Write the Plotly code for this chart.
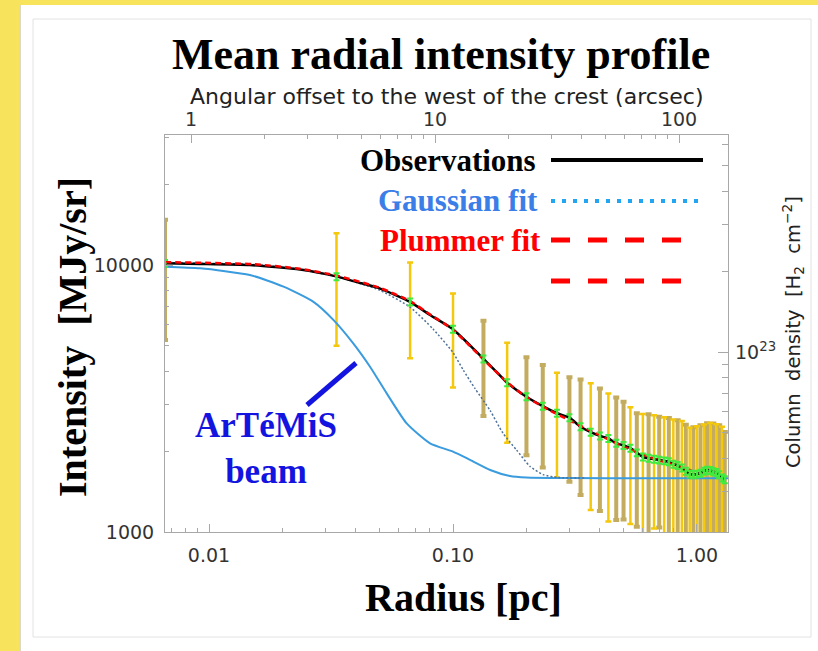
import math
import plotly.graph_objects as go

# ---------------- data ----------------
# radial bins (pc) of the observed profile
bin_radius_pc = [0.0066, 0.0333, 0.0667, 0.1, 0.1333, 0.1667, 0.2, 0.2333, 0.2667, 0.3,
                 0.3333, 0.3667, 0.4, 0.4333, 0.4667, 0.5, 0.5333, 0.5667, 0.6, 0.6333,
                 0.6667, 0.7, 0.7333, 0.7667, 0.8, 0.8333, 0.8667, 0.9, 0.9333, 0.9667,
                 1.0, 1.0333, 1.0667, 1.1, 1.1333, 1.1667, 1.2, 1.2333, 1.2667, 1.3]
bin_intensity = [10150, 9050, 7280, 5750, 4450, 3625, 3210, 2960, 2785, 2680,
                 2480, 2365, 2290, 2240, 2150, 2110, 2060, 1980, 1910, 1890,
                 1875, 1860, 1848, 1835, 1795, 1775, 1738, 1690, 1650, 1640,
                 1648, 1660, 1690, 1705, 1700, 1682, 1672, 1640, 1593, 1570]
bin_upper = [14770, 13150, 10230, 7830, 6190, 5120, 4510, 4220, 3950, 3800,
             3730, 3605, 3450, 3305, 3190, 3075, 2930, 2785, 2770, 2760,
             2740, 2700, 2690, 2675, 2640, 2620, 2605, 2520, 2460, 2470,
             2490, 2510, 2530, 2555, 2560, 2550, 2535, 2510, 2480, 2370]
bin_lower = [5240, 4990, 4480, 3480, 2720, 2160, 1940, 1745, 1600, 1543,
             1376, 1208, 1199, 1094, 1110, 1115, 1071, 1047, 960, 950,
             1030, 1040, 980, 960, 940, 930, 920, 900, 900, 900,
             900, 900, 900, 900, 900, 900, 900, 900, 900, 900]
bin_tone = ["K", "Y", "Y", "Y", "K", "Y", "K", "K", "Y", "K",
            "K", "Y", "K", "Y", "K", "K", "Y", "K", "Y", "K",
            "Y", "K", "Y", "K", "Y", "K", "Y", "K", "Y", "K",
            "Y", "K", "Y", "K", "Y", "K", "Y", "K", "Y", "K"]
bin_mean_error_pct = 3

# observed profile (black curve)
obs_r = [0.0066, 0.0092, 0.0147, 0.0236, 0.0335, 0.04, 0.05, 0.0667, 0.0805, 0.1,
         0.1167, 0.1333, 0.15, 0.1667, 0.2, 0.2333, 0.2667, 0.3, 0.3333, 0.3667,
         0.4, 0.4333, 0.4667, 0.5, 0.5333, 0.5667, 0.6, 0.6333, 0.6667, 0.7,
         0.7333, 0.7667, 0.8, 0.8333, 0.8667, 0.9, 0.9333, 0.9667, 1.0, 1.0333,
         1.0667, 1.1, 1.1333, 1.1667, 1.2, 1.2333, 1.2667, 1.3]
obs_I = [10150, 10100, 10000, 9620, 9050, 8650, 8180, 7280, 6500, 5750,
         5030, 4450, 4000, 3625, 3210, 2960, 2785, 2680, 2480, 2365,
         2290, 2240, 2150, 2110, 2060, 1980, 1910, 1890, 1875, 1860,
         1848, 1835, 1795, 1775, 1738, 1690, 1650, 1640, 1648, 1660,
         1690, 1705, 1700, 1682, 1672, 1640, 1593, 1570]

# Plummer fit (red dashed)
plummer_r = [0.0066, 0.015, 0.0236, 0.0335, 0.05, 0.0667, 0.08, 0.1, 0.1333, 0.1667,
             0.2, 0.25, 0.3, 0.4, 0.5, 0.6, 0.7, 0.8, 0.9, 0.95]
plummer_I = [10250, 10080, 9680, 9120, 8220, 7320, 6560, 5720, 4430, 3640,
             3200, 2850, 2620, 2300, 2090, 1950, 1855, 1790, 1725, 1700]

# Gaussian fit (dotted)
gauss_r = [0.0066, 0.015, 0.0236, 0.0335, 0.05, 0.0667, 0.083, 0.1, 0.11, 0.123,
           0.142, 0.16, 0.182, 0.207, 0.234, 0.27, 0.35]
gauss_I = [10200, 10050, 9620, 9030, 8050, 6950, 5750, 4700, 4050, 3450,
           2850, 2350, 2030, 1760, 1640, 1600, 1592]

# ArTeMiS beam (light blue)
beam_r = [0.0066, 0.0092, 0.0147, 0.0202, 0.0268, 0.0324, 0.039, 0.0457, 0.0535, 0.0646,
          0.0805, 0.1, 0.1175, 0.142, 0.171, 0.2, 0.3, 0.6, 1.0, 1.34]
beam_I = [9860, 9720, 9180, 8300, 7280, 6220, 5090, 4160, 3305, 2551,
          2148, 2000, 1862, 1707, 1621, 1600, 1592, 1590, 1590, 1590]

# axis extents / conversions
x_range_pc = [0.0066, 1.34]
y_range_I = [1000, 30700]
pc_per_arcsec = 0.00844
coldens_per_I = 1e23 / 4720.0

x_ticks = [0.01, 0.1, 1.0]
x_ticktext = ["0.01", "0.10", "1.00"]
x_minor = [0.007, 0.008, 0.009, 0.02, 0.03, 0.04, 0.05, 0.06, 0.07, 0.08, 0.09,
           0.2, 0.3, 0.4, 0.5, 0.6, 0.7, 0.8, 0.9]
top_ticks = [1, 10, 100]
top_ticktext = ["1", "10", "100"]
top_minor = [2, 3, 4, 5, 6, 7, 8, 9, 20, 30, 40, 50, 60, 70, 80, 90, 200]
y_ticks = [1000, 10000]
y_ticktext = ["1000", "10000"]
y_minor = [2000, 3000, 4000, 5000, 6000, 7000, 8000, 9000, 20000, 30000]
r_ticks = [1e23]
r_ticktext = ["10<sup>23</sup>"]
r_minor = [3e22, 4e22, 5e22, 6e22, 7e22, 8e22, 9e22, 2e23, 3e23, 4e23, 5e23, 6e23]

# ---------------- figure ----------------
W, H = 818, 651
PX_L, PX_R, PY_T, PY_B = 165, 728, 135, 532


def px(x):
    return (x - PX_L) / (PX_R - PX_L)


def py(y):
    return (PY_B - y) / (PY_B - PY_T)


fig = go.Figure()

# error bars (two tones)
for tone, color, thick in [("K", "#C3AC60", 4), ("Y", "#F4C80C", 2.5)]:
    idx = [i for i, t in enumerate(bin_tone) if t == tone]
    fig.add_trace(go.Scatter(
        x=[bin_radius_pc[i] for i in idx],
        y=[bin_intensity[i] for i in idx],
        mode="markers", marker=dict(size=1, opacity=0),
        error_y=dict(type="data", symmetric=False,
                     array=[bin_upper[i] - bin_intensity[i] for i in idx],
                     arrayminus=[bin_intensity[i] - bin_lower[i] for i in idx],
                     color=color, thickness=thick, width=3),
        hoverinfo="skip"))

fig.add_trace(go.Scatter(x=beam_r, y=beam_I, mode="lines",
                         line=dict(color="#3A9BDE", width=2, shape="spline", smoothing=0.6)))
fig.add_trace(go.Scatter(x=gauss_r, y=gauss_I, mode="lines",
                         line=dict(color="#4F7298", width=1.5, dash="2px,2px", shape="spline", smoothing=0.6)))
fig.add_trace(go.Scatter(x=obs_r, y=obs_I, mode="lines",
                         line=dict(color="black", width=2.5, shape="spline", smoothing=0.5)))
fig.add_trace(go.Scatter(x=plummer_r, y=plummer_I, mode="lines",
                         line=dict(color="#FF0000", width=2.5, dash="6px,4px", shape="spline", smoothing=0.6)))
fig.add_trace(go.Scatter(x=bin_radius_pc, y=bin_intensity, mode="markers",
                         marker=dict(size=3, color="#3EEB3E"),
                         error_y=dict(type="percent", value=bin_mean_error_pct,
                                      color="#3EEB3E", thickness=2, width=3)))

# helper traces activating the secondary axes
fig.add_trace(go.Scatter(x=[r / pc_per_arcsec for r in bin_radius_pc], y=bin_intensity,
                         xaxis="x2", yaxis="y", mode="markers",
                         marker=dict(size=1, opacity=0), hoverinfo="skip"))
fig.add_trace(go.Scatter(x=bin_radius_pc, y=[v * coldens_per_I for v in bin_intensity],
                         xaxis="x", yaxis="y2", mode="markers",
                         marker=dict(size=1, opacity=0), hoverinfo="skip"))

tickfont = dict(family="DejaVu Sans", size=19, color="#333333")
axline = "#A8A8A8"
lx = [math.log10(v) for v in x_range_pc]
ly = [math.log10(v) for v in y_range_I]

fig.update_layout(
    width=W, height=H, autosize=False, showlegend=False,
    margin=dict(l=PX_L, r=W - PX_R, t=PY_T, b=H - PY_B, pad=0),
    paper_bgcolor="#F8E35C", plot_bgcolor="white",
    xaxis=dict(type="log", range=lx, tickmode="array", tickvals=x_ticks, ticktext=x_ticktext,
               ticks="inside", ticklen=8, tickcolor=axline, showgrid=False, zeroline=False,
               showline=True, linecolor=axline, linewidth=1, mirror=True,
               tickfont=tickfont, ticklabelstandoff=6,
               minor=dict(tickmode="array", tickvals=x_minor, ticks="inside", ticklen=4,
                          tickcolor=axline, showgrid=False)),
    xaxis2=dict(type="log", overlaying="x", side="top", anchor="y",
                range=[lx[0] - math.log10(pc_per_arcsec), lx[1] - math.log10(pc_per_arcsec)],
                tickmode="array", tickvals=top_ticks, ticktext=top_ticktext,
                ticks="inside", ticklen=8, tickcolor=axline, showgrid=False, zeroline=False,
                showline=False, tickfont=tickfont, ticklabelstandoff=4,
                minor=dict(tickmode="array", tickvals=top_minor, ticks="inside", ticklen=4,
                           tickcolor=axline, showgrid=False)),
    yaxis=dict(type="log", range=ly, tickmode="array", tickvals=y_ticks, ticktext=y_ticktext,
               ticks="inside", ticklen=8, tickcolor=axline, showgrid=False, zeroline=False,
               showline=True, linecolor=axline, linewidth=1, mirror=True,
               tickfont=tickfont, ticklabelstandoff=6,
               minor=dict(tickmode="array", tickvals=y_minor, ticks="inside", ticklen=4,
                          tickcolor=axline, showgrid=False)),
    yaxis2=dict(type="log", overlaying="y", side="right", anchor="x",
                range=[ly[0] + math.log10(coldens_per_I), ly[1] + math.log10(coldens_per_I)],
                tickmode="array", tickvals=r_ticks, ticktext=r_ticktext,
                ticks="inside", ticklen=10, tickcolor=axline, showgrid=False, zeroline=False,
                showline=False, tickfont=tickfont, ticklabelstandoff=6,
                minor=dict(tickmode="array", tickvals=r_minor, ticks="inside", ticklen=6,
                           tickcolor=axline, showgrid=False)),
)

shapes = [
    dict(type="rect", xref="paper", yref="paper", layer="below",
         x0=px(19), x1=px(21), y0=py(651), y1=py(5),
         line=dict(width=0), fillcolor="#DCD9C8"),
    dict(type="rect", xref="paper", yref="paper", layer="below",
         x0=px(21), x1=px(818), y0=py(651), y1=py(5),
         line=dict(width=0), fillcolor="white"),
    dict(type="rect", xref="paper", yref="paper", layer="below",
         x0=px(33), x1=px(811), y0=py(637), y1=py(19),
         line=dict(width=1, color="#E2E2E2"), fillcolor="white"),
    # legend samples
    dict(type="line", xref="paper", yref="paper", x0=px(551), x1=px(703), y0=py(160), y1=py(160),
         line=dict(color="black", width=4)),
    dict(type="line", xref="paper", yref="paper", x0=px(551), x1=px(703), y0=py(201), y1=py(201),
         line=dict(color="#22A6F2", width=4, dash="4px,7px")),
    dict(type="line", xref="paper", yref="paper", x0=px(551), x1=px(684), y0=py(240), y1=py(240),
         line=dict(color="#FF0000", width=5, dash="19px,18px")),
    dict(type="line", xref="paper", yref="paper", x0=px(551), x1=px(684), y0=py(281), y1=py(281),
         line=dict(color="#FF0000", width=5, dash="19px,18px")),
    # beam pointer
    dict(type="line", xref="paper", yref="paper", x0=px(307), x1=px(356), y0=py(405), y1=py(363),
         line=dict(color="#1414E0", width=5)),
]
fig.update_layout(shapes=shapes)

serif = "Liberation Serif"
ann = [
    dict(text="<b>Mean radial intensity profile</b>", x=px(441), y=py(54),
         font=dict(family=serif, size=44, color="black")),
    dict(text="Angular offset to the west of the crest (arcsec)", x=px(447), y=py(97),
         font=dict(family="DejaVu Sans", size=22, color="#222222")),
    dict(text="<b>Intensity  [MJy/sr]</b>", x=px(72), y=py(337), textangle=-90,
         font=dict(family=serif, size=40, color="black")),
    dict(text="<b>Radius [pc]</b>", x=px(463), y=py(597),
         font=dict(family=serif, size=40, color="black")),
    dict(text="Column  density  [H<sub>2</sub>  cm<sup>\u22122</sup>]", x=px(793), y=py(332),
         textangle=-90, font=dict(family="DejaVu Sans", size=19.5, color="#222222")),
    dict(text="<b>Observations</b>", x=px(538), y=py(160), xanchor="right",
         font=dict(family=serif, size=31, color="black")),
    dict(text="<b>Gaussian fit</b>", x=px(540), y=py(200), xanchor="right",
         font=dict(family=serif, size=31, color="#3B7EE8")),
    dict(text="<b>Plummer fit</b>", x=px(543), y=py(240), xanchor="right",
         font=dict(family=serif, size=31, color="#FF0000")),
    dict(text="<b>ArTéMiS<br>beam</b>", x=px(266), y=py(448),
         font=dict(family=serif, size=35, color="#1414E0")),
]
for a in ann:
    a.setdefault("xanchor", "center")
    a.setdefault("yanchor", "middle")
    a.update(xref="paper", yref="paper", showarrow=False)
fig.update_layout(annotations=ann)

fig.write_html("out.html", config={"displayModeBar": False},
               post_script="document.body.style.margin='0px';")
